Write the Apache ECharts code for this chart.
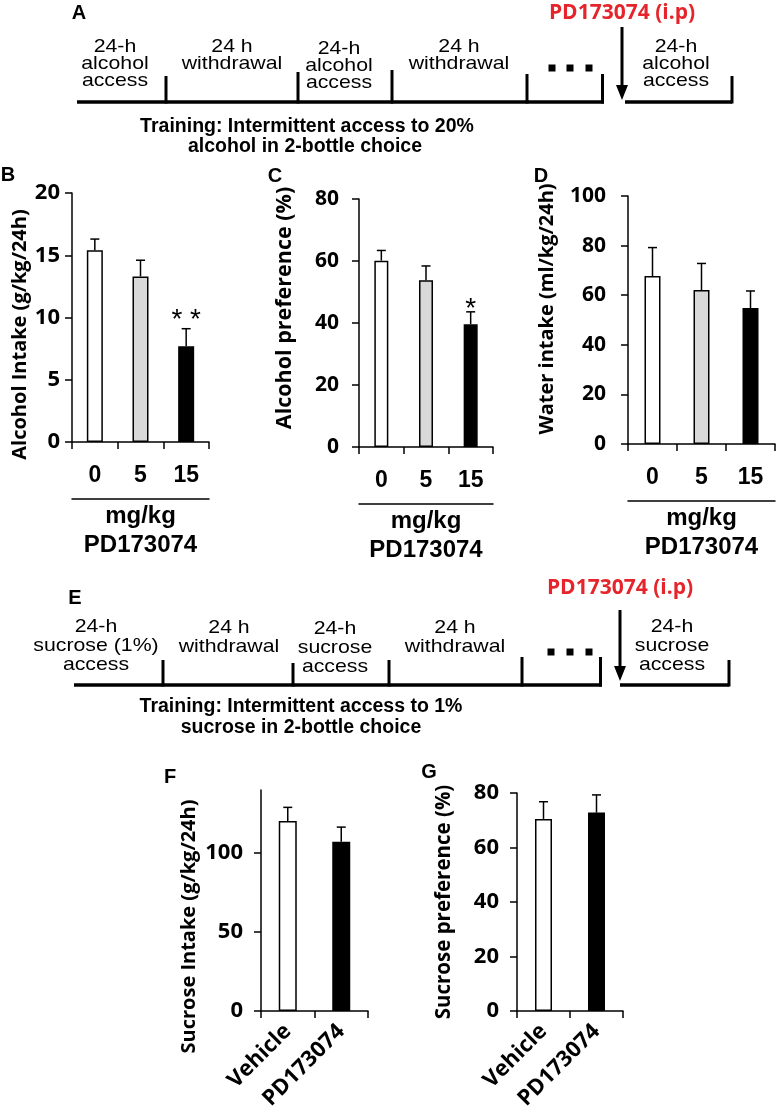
<!DOCTYPE html>
<html><head><meta charset="utf-8">
<script src="https://cdn.jsdelivr.net/npm/echarts@6.0.0/dist/echarts.min.js"></script>
<style>html,body{margin:0;padding:0;background:#fff}#c{width:777px;height:1119px}</style>
</head><body><div id="c"></div>
<script>
// ---------- DATA ----------
const doseCats = ['0', '5', '15'];
const doseAxisTitle = ['mg/kg', 'PD173074'];
const alcoholIntake = [15.4, 13.3, 7.7];
const alcoholIntakeSem = [0.9, 1.3, 1.4];
const alcoholPref = [60.1, 53.8, 39.6];
const alcoholPrefSem = [3.3, 4.6, 4.0];
const waterIntake = [67.7, 62.1, 54.8];
const waterIntakeSem = [11.5, 10.7, 6.9];
const sigB = ['', '', '**'];
const sigC = ['', '', '*'];
const sucroseCats = ['Vehicle', 'PD173074'];
const sucroseIntake = [120.3, 107.2];
const sucroseIntakeSem = [8.7, 9.3];
const sucrosePref = [70.5, 72.8];
const sucrosePrefSem = [6.3, 6.5];
const yTicksB = [0, 5, 10, 15, 20];
const yTicksC = [0, 20, 40, 60, 80];
const yTicksD = [0, 20, 40, 60, 80, 100];
const yTicksF = [0, 50, 100];
const yTicksG = [0, 20, 40, 60, 80];
const alcoholStages = ['24-h\nalcohol\naccess', '24 h\nwithdrawal', '24-h\nalcohol\naccess', '24 h\nwithdrawal', '24-h\nalcohol\naccess'];
const sucroseStages = ['24-h\nsucrose (1%)\naccess', '24 h\nwithdrawal', '24-h\nsucrose\naccess', '24 h\nwithdrawal', '24-h\nsucrose\naccess'];
const trainingAlcohol = ['Training: Intermittent access to 20%', 'alcohol in 2-bottle choice'];
const trainingSucrose = ['Training: Intermittent access to 1%', 'sucrose in 2-bottle choice'];
const injectionLabel = 'PD173074 (i.p)';
const panelLetters = ['A', 'B', 'C', 'D', 'E', 'F', 'G'];

// ---------- STYLE ----------
const fills3 = ['#ffffff', '#d9d9d9', '#000000'];
const fills2 = ['#ffffff', '#000000'];
const INK = '#000';

const panels = [
  {grid:{left:72, top:193, width:137, height:249}, cats:doseCats, vals:alcoholIntake, sem:alcoholIntakeSem, sig:sigB, sigGap:8,
   fills:fills3, yMax:20, yInt:5, yTicks:yTicksB, yName:'Alcohol Intake (g/kg/24h)', nameSize:20, tickSize:22, nameGap:42, namePad:[0,34,0,0], yMargin:12, barWidth:16, dose:true},
  {grid:{left:359, top:199, width:134, height:248}, cats:doseCats, vals:alcoholPref, sem:alcoholPrefSem, sig:sigC, sigGap:3,
   fills:fills3, yMax:80, yInt:20, yTicks:yTicksC, yName:'Alcohol preference (%)', nameSize:21.5, tickSize:21, nameGap:63, namePad:[0,0,0,30], yMargin:20, barWidth:14, dose:true},
  {grid:{left:628, top:196, width:147, height:248}, cats:doseCats, vals:waterIntake, sem:waterIntakeSem, sig:null, sigGap:0,
   fills:fills3, yMax:100, yInt:20, yTicks:yTicksD, yName:'Water intake (ml/kg/24h)', nameSize:20, tickSize:21, nameGap:71, namePad:[0,0,0,22], yMargin:22, barWidth:16, dose:true},
  {grid:{left:261, top:790, width:107, height:221}, cats:sucroseCats, vals:sucroseIntake, sem:sucroseIntakeSem, sig:null, sigGap:0,
   fills:fills2, yMax:140, yInt:50, yTicks:yTicksF, yName:'Sucrose Intake (g/kg/24h)', nameSize:20, tickSize:22, nameGap:62, namePad:[0,52,0,0], yMargin:18, barWidth:18, dose:false},
  {grid:{left:517, top:793, width:106, height:218}, cats:sucroseCats, vals:sucrosePref, sem:sucrosePrefSem, sig:null, sigGap:0,
   fills:fills2, yMax:80, yInt:20, yTicks:yTicksG, yName:'Sucrose preference (%)', nameSize:20.5, tickSize:22, nameGap:62, namePad:[0,0,0,0], yMargin:18, barWidth:17, dose:false}
];

const grids = [], xAxes = [], yAxes = [], series = [];
const axisLineStyle = {color: INK, width: 1.5};
panels.forEach((p, i) => {
  grids.push(Object.assign({containLabel:false}, p.grid));
  const xi = xAxes.length;
  xAxes.push({
    gridIndex:i, type:'category', data:p.cats, position:'bottom',
    axisLine:{show:true, onZero:false, lineStyle:axisLineStyle},
    axisTick:{show:true, length:7, lineStyle:axisLineStyle},
    axisLabel: p.dose
      ? {interval:0, margin:22, fontFamily:'Liberation Sans', fontWeight:'bold', fontSize:23, lineHeight:23, color:INK}
      : {interval:0, rotate:45, margin:17, fontFamily:'Open Sans', fontWeight:'bold', fontSize:22, color:INK}
  });
  if (p.dose) {
    xAxes.push({
      gridIndex:i, type:'category', data:p.cats, position:'bottom', offset:57,
      axisLine:{show:true, onZero:false, lineStyle:axisLineStyle},
      axisTick:{show:false}, axisLabel:{show:false},
      name: doseAxisTitle.join('\n'), nameLocation:'middle', nameGap:3,
      nameTextStyle:{fontFamily:'Liberation Sans', fontWeight:'bold', fontSize:24, lineHeight:29, color:INK, verticalAlign:'top'}
    });
  }
  yAxes.push({
    gridIndex:i, type:'value', min:0, max:p.yMax, interval:p.yInt,
    axisLine:{show:true, lineStyle:axisLineStyle},
    axisTick:{show:true, length:7, lineStyle:axisLineStyle, customValues:p.yTicks},
    axisLabel:{margin:p.yMargin, fontFamily:'Open Sans', fontWeight:'bold', fontSize:p.tickSize, color:INK, customValues:p.yTicks},
    splitLine:{show:false},
    name:p.yName, nameLocation:'middle', nameGap:p.nameGap, nameRotate:90,
    nameTextStyle:{fontFamily:'Open Sans', fontWeight:'bold', fontSize:p.nameSize, color:INK, padding:p.namePad}
  });
  series.push({
    type:'bar', xAxisIndex:xi, yAxisIndex:i, barWidth:p.barWidth,
    data:p.vals.map((v, k) => ({value:v, itemStyle:{color:p.fills[k], borderColor:INK, borderWidth:1.5}})),
    z:2
  });
  series.push({
    type:'custom', xAxisIndex:xi, yAxisIndex:i, z:5,
    data:p.vals.map((v, k) => [k, v, p.sem[k]]),
    renderItem:(params, api) => {
      const k = params.dataIndex;
      const base = api.coord([api.value(0), api.value(1)]);
      const top = api.coord([api.value(0), api.value(1) + api.value(2)]);
      const ch = [
        {type:'line', shape:{x1:base[0], y1:base[1], x2:top[0], y2:top[1]}, style:{stroke:INK, lineWidth:1.5}},
        {type:'line', shape:{x1:top[0]-4.5, y1:top[1], x2:top[0]+4.5, y2:top[1]}, style:{stroke:INK, lineWidth:1.5}}
      ];
      if (p.sig && p.sig[k]) {
        ch.push({type:'text', x:top[0], y:top[1] - p.sigGap,
          style:{text:p.sig[k].split('').join(' '), font:'28px "Liberation Sans"', fill:INK, align:'center', verticalAlign:'middle'}});
      }
      return {type:'group', children:ch};
    }
  });
});

// ---------- SCHEMATIC (timelines, letters) ----------
const G = [];
function ln(x1, y1, x2, y2, w) { G.push({type:'line', silent:true, shape:{x1, y1, x2, y2}, style:{stroke:INK, lineWidth:w, lineCap:'butt'}}); }
function tx(x, y, text, font, opts) {
  G.push(Object.assign({type:'text', silent:true, x, y, originX:0, originY:0,
    style:Object.assign({text, font, fill:INK, align:'center', verticalAlign:'middle'}, (opts && opts.style) || {})},
    (opts && opts.el) || {}));
}
const stageFont = '19px "Liberation Sans"';
const boldFont = 'bold 19.5px "Liberation Sans"';
const letterFont = 'bold 20px "Liberation Sans"';
const redFont = 'bold 21px "Open Sans"';

function timeline(cfg, stages, training) {
  const y = cfg.y;
  ln(cfg.x0, y, cfg.x1, y, 3.5);
  cfg.ticks.forEach(t => ln(t[0], y + 1.5, t[0], t[1], 3));
  ln(cfg.r0, y, cfg.r1, y, 3.5);
  ln(cfg.r1, y + 1.5, cfg.r1, cfg.rTop, 3);
  ln(cfg.ax, cfg.aTop, cfg.ax, cfg.aHead + 2, 3);
  G.push({type:'polygon', silent:true, shape:{points:[[cfg.ax-6, cfg.aHead], [cfg.ax+6, cfg.aHead], [cfg.ax, cfg.aHead+15]]}, style:{fill:INK}});
  cfg.dots.forEach(dx => G.push({type:'rect', silent:true, shape:{x:dx-3.5, y:cfg.dotY-3.5, width:7, height:7}, style:{fill:INK}}));
  stages.forEach((s, k) => tx(cfg.sx[k], cfg.sy[k], s, stageFont, {style:{lineHeight:cfg.lh}, el:{scaleX:1.12}}));
  tx(cfg.tx[0], cfg.ty[0], training[0], boldFont);
  tx(cfg.tx[1], cfg.ty[1], training[1], boldFont);
  tx(cfg.redX, cfg.redY, injectionLabel, redFont, {style:{fill:'#e5252b'}});
}
timeline({y:102, x0:77, x1:604, ticks:[[166,76],[298,72],[392,70],[527,74],[602.5,74]], r0:625, r1:732, rTop:76,
  ax:622, aTop:27, aHead:85, dots:[552,570,589], dotY:68, lh:17,
  sx:[115,232,339,459,676], sy:[64,55,66,55.5,64], tx:[307,305], ty:[127,147], redX:622, redY:13}, alcoholStages, trainingAlcohol);
timeline({y:685, x0:74, x1:602, ticks:[[163,660],[293,663],[389,660],[522,657],[600.5,657]], r0:620, r1:729, rTop:660,
  ax:620, aTop:610, aHead:666, dots:[551,570,589], dotY:652, lh:19,
  sx:[96,229,335,455,672], sy:[646,637.5,648,637.5,646], tx:[301,301], ty:[707,728], redX:620, redY:588}, sucroseStages, trainingSucrose);

const letterPos = [[79,13],[8,175],[275,176],[541,176],[75,598],[170,777],[429,772]];
panelLetters.forEach((L, k) => tx(letterPos[k][0], letterPos[k][1], L, letterFont));

const chart = echarts.init(document.getElementById('c'), null, {renderer:'canvas'});
chart.setOption({
  animation:false,
  backgroundColor:'#fff',
  grid:grids, xAxis:xAxes, yAxis:yAxes, series:series,
  graphic:{elements:G}
});
</script></body></html>
